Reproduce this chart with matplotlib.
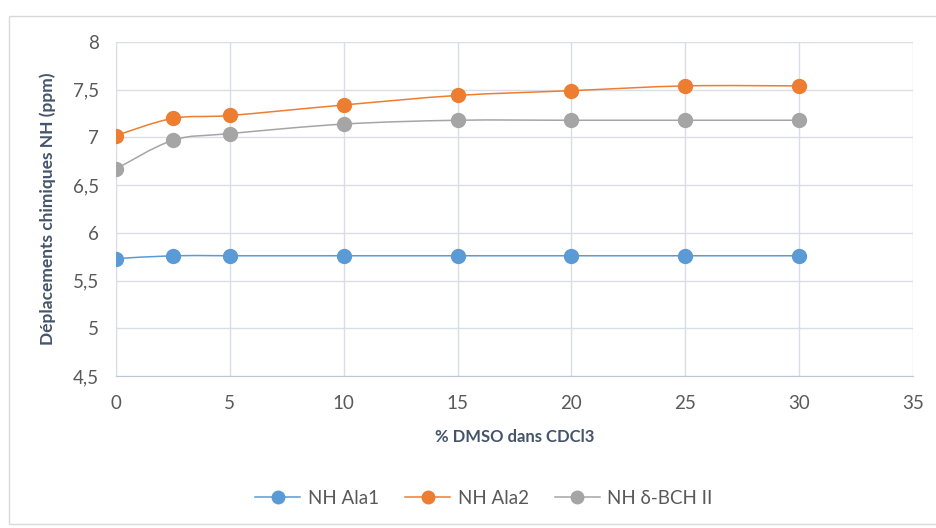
import numpy as np
import matplotlib
matplotlib.use("Agg")
import matplotlib.pyplot as plt
from matplotlib.path import Path
from matplotlib.patches import PathPatch, Rectangle
from matplotlib.lines import Line2D

# Données
dmso = [0, 2.5, 5, 10, 15, 20, 25, 30]
nh_ala1 = [5.73, 5.76, 5.76, 5.76, 5.76, 5.76, 5.76, 5.76]
nh_ala2 = [7.02, 7.20, 7.23, 7.34, 7.44, 7.49, 7.54, 7.54]
nh_bch = [6.67, 6.97, 7.04, 7.14, 7.18, 7.18, 7.18, 7.18]

series_names = ["NH Ala1", "NH Ala2", "NH δ-BCH II"]
series_colors = ["#5B9BD5", "#ED7D31", "#A5A5A5"]

TXT = "#595959"
TITLE = "#44546A"
GRID = "#D9DDE5"

plt.rcParams["font.family"] = ["Lato", "DejaVu Sans"]


def smooth_path(x, y, t=1 / 6):
    """Courbe lissée style Excel (Bézier à partir des points)."""
    x = np.asarray(x, float)
    y = np.asarray(y, float)
    verts = [(x[0], y[0])]
    codes = [Path.MOVETO]
    n = len(x)
    for i in range(n - 1):
        p0 = np.array([x[max(i - 1, 0)], y[max(i - 1, 0)]])
        p1 = np.array([x[i], y[i]])
        p2 = np.array([x[i + 1], y[i + 1]])
        p3 = np.array([x[min(i + 2, n - 1)], y[min(i + 2, n - 1)]])
        c1 = p1 + (p2 - p0) * t
        c2 = p2 - (p3 - p1) * t
        verts += [tuple(c1), tuple(c2), tuple(p2)]
        codes += [Path.CURVE4] * 3
    return Path(verts, codes)


fig = plt.figure(figsize=(9.37, 5.28), dpi=100)
fig.patches.append(Rectangle((9 / 937, 4 / 528), 1.2, 508 / 528,
                             transform=fig.transFigure, fill=False,
                             edgecolor="#D9D9D9", linewidth=1.0))

ax = fig.add_axes([116 / 937, 1 - 376 / 528, 797 / 937, 334 / 528])

for ys, name, col in zip([nh_ala1, nh_ala2, nh_bch], series_names, series_colors):
    ax.add_patch(PathPatch(smooth_path(dmso, ys), fill=False,
                           edgecolor=col, linewidth=1.1, zorder=3))
    ax.plot(dmso, ys, linestyle="none", marker="o", markersize=10,
            color=col, zorder=4)

ax.set_xlim(0, 35)
ax.set_ylim(4.5, 8)
ax.set_xticks(np.arange(0, 36, 5))
ax.set_yticks(np.arange(4.5, 8.01, 0.5))
ax.set_yticklabels([f"{v:g}".replace(".", ",") for v in np.arange(4.5, 8.01, 0.5)])

ax.grid(True, color=GRID, linewidth=1.0)
ax.set_axisbelow(True)
for side in ["top", "right"]:
    ax.spines[side].set_visible(False)
ax.spines["left"].set_color(GRID)
ax.spines["bottom"].set_color("#BFC6D3")
ax.tick_params(length=0, labelsize=13.5, colors=TXT)
ax.tick_params(axis="x", pad=14)
ax.tick_params(axis="y", pad=12)

ax.set_xlabel("% DMSO dans CDCl3", fontsize=12, fontweight="bold",
              color=TITLE, labelpad=12)
ax.set_ylabel("Déplacements chimiques NH (ppm)", fontsize=12.5,
              fontweight="bold", color=TITLE, labelpad=12)

handles = [Line2D([], [], color=c, marker="o", markersize=9, linewidth=1.1)
           for c in series_colors]
leg = fig.legend(handles, series_names, loc="center", ncol=3,
                 bbox_to_anchor=(484 / 937, 1 - 498 / 528), frameon=False,
                 fontsize=13.5, handlelength=2.4, handletextpad=0.4,
                 columnspacing=1.4)
for txt in leg.get_texts():
    txt.set_color(TXT)

fig.savefig("out.png", dpi=100)
